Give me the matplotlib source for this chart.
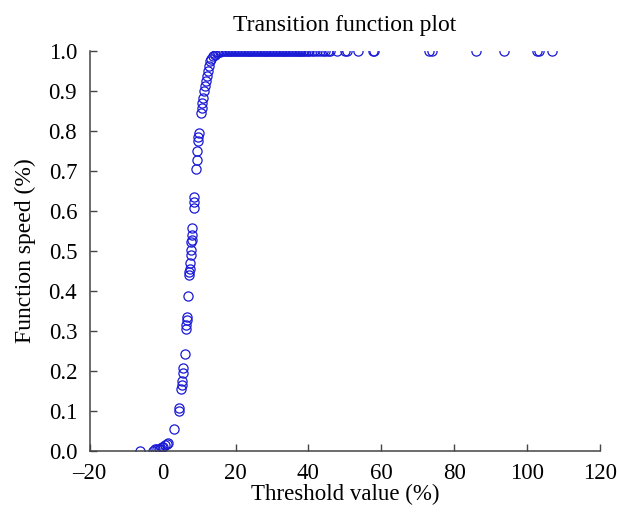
import matplotlib

matplotlib.use("Agg")
import matplotlib.pyplot as plt

# points on the rising part of the curve
rise_x = [-6.1, -2.5, -2.0, -1.5, -1.1, -0.7, -0.2, 0.2, 0.7, 1.3, 1.5,
          3.2, 4.5, 4.5, 5.0, 5.2, 5.4, 5.6, 5.7, 6.2,
          6.5, 6.5, 6.7, 6.7, 6.9, 7.3, 7.3, 7.4, 7.6, 7.8, 7.8, 7.9,
          8.0, 8.0, 8.0, 8.7, 8.7, 8.7, 9.2, 9.4, 9.4, 9.8, 9.8, 10.0,
          10.5, 10.7, 10.9, 11.1, 11.4, 11.7, 11.9, 12.1, 12.4, 12.7,
          13.0, 13.4, 13.8, 14.3, 14.9]
rise_y = [0.0, 0.0, 0.003, 0.003, 0.005, 0.005, 0.008, 0.008, 0.013, 0.017, 0.018,
          0.053, 0.098, 0.106, 0.155, 0.163, 0.175, 0.193, 0.206, 0.242,
          0.305, 0.313, 0.326, 0.334, 0.387, 0.439, 0.447, 0.455, 0.468, 0.489, 0.501, 0.522,
          0.526, 0.539, 0.556, 0.606, 0.622, 0.635, 0.703, 0.727, 0.749, 0.775, 0.785, 0.794,
          0.844, 0.856, 0.869, 0.881, 0.898, 0.911, 0.923, 0.936, 0.948, 0.961,
          0.973, 0.980, 0.986, 0.990, 0.994]

# saturated points (function speed ~ 1.0)
flat_x = [15.3, 15.7, 16.1, 16.5, 16.9, 17.3, 17.7, 18.1, 18.5, 18.9,
          19.3, 19.7, 20.1, 20.5, 20.9, 21.3, 21.7, 22.1, 22.5, 22.9,
          23.3, 23.7, 24.1, 24.5, 24.9, 25.3, 25.7, 26.1, 26.5, 26.9,
          27.3, 27.7, 28.1, 28.5, 28.9, 29.3, 29.7, 30.1, 30.5, 30.9,
          31.3, 31.7, 32.1, 32.5, 32.9, 33.3, 33.7, 34.1, 34.5, 34.9,
          35.3, 35.7, 36.1, 36.5, 36.9, 37.3, 37.7, 38.1, 38.5, 38.9,
          39.3, 39.8, 40.3, 41.0, 41.6, 42.3, 43.2, 44.0, 44.6, 45.3,
          46.0, 47.8, 50.1, 50.5, 53.5, 57.7, 58.1, 73.2, 73.9, 85.9,
          93.6, 102.7, 103.3, 106.9]
flat_y = [0.996, 0.997, 0.998, 0.998, 0.999, 0.999] + [1.0] * 78

fig = plt.figure(figsize=(6.17, 5.14), dpi=100)
ax = fig.add_axes([0.1454, 0.1232, 0.827, 0.7782])

serif = ["Liberation Serif", "DejaVu Serif"]
color = "#1a1ad6"

ax.plot(rise_x + flat_x, rise_y + flat_y, linestyle="none", marker="o",
        markersize=6.6, markerfacecolor="none", markeredgecolor=color,
        markeredgewidth=0.9)

ax.set_xlim(-20, 120)
ax.set_ylim(0, 1.0)
ax.set_xticks(range(-20, 121, 20))
ax.set_yticks([i / 10 for i in range(11)])
ax.set_xticklabels(["\u201320", "0", "20", "40", "60", "80", "100", "120"])
ax.set_yticklabels([f"{i / 10:.1f}" for i in range(11)])

for side in ["top", "right"]:
    ax.spines[side].set_visible(False)
for side in ["left", "bottom"]:
    ax.spines[side].set_color("#444444")
    ax.spines[side].set_linewidth(1.1)

ax.tick_params(direction="in", length=5, width=1.0, color="#444444",
               labelsize=16.5)
ax.tick_params(axis="x", pad=9)
ax.tick_params(axis="y", pad=9)
for label in ax.get_xticklabels() + ax.get_yticklabels():
    label.set_family(serif)

ax.set_title("Transition function plot", family=serif, fontsize=17, pad=14)
ax.set_xlabel("Threshold value (%)", family=serif, fontsize=16.5, labelpad=0)
ax.set_ylabel("Function speed (%)", family=serif, fontsize=17, labelpad=9)

fig.savefig("out.png", dpi=100)
